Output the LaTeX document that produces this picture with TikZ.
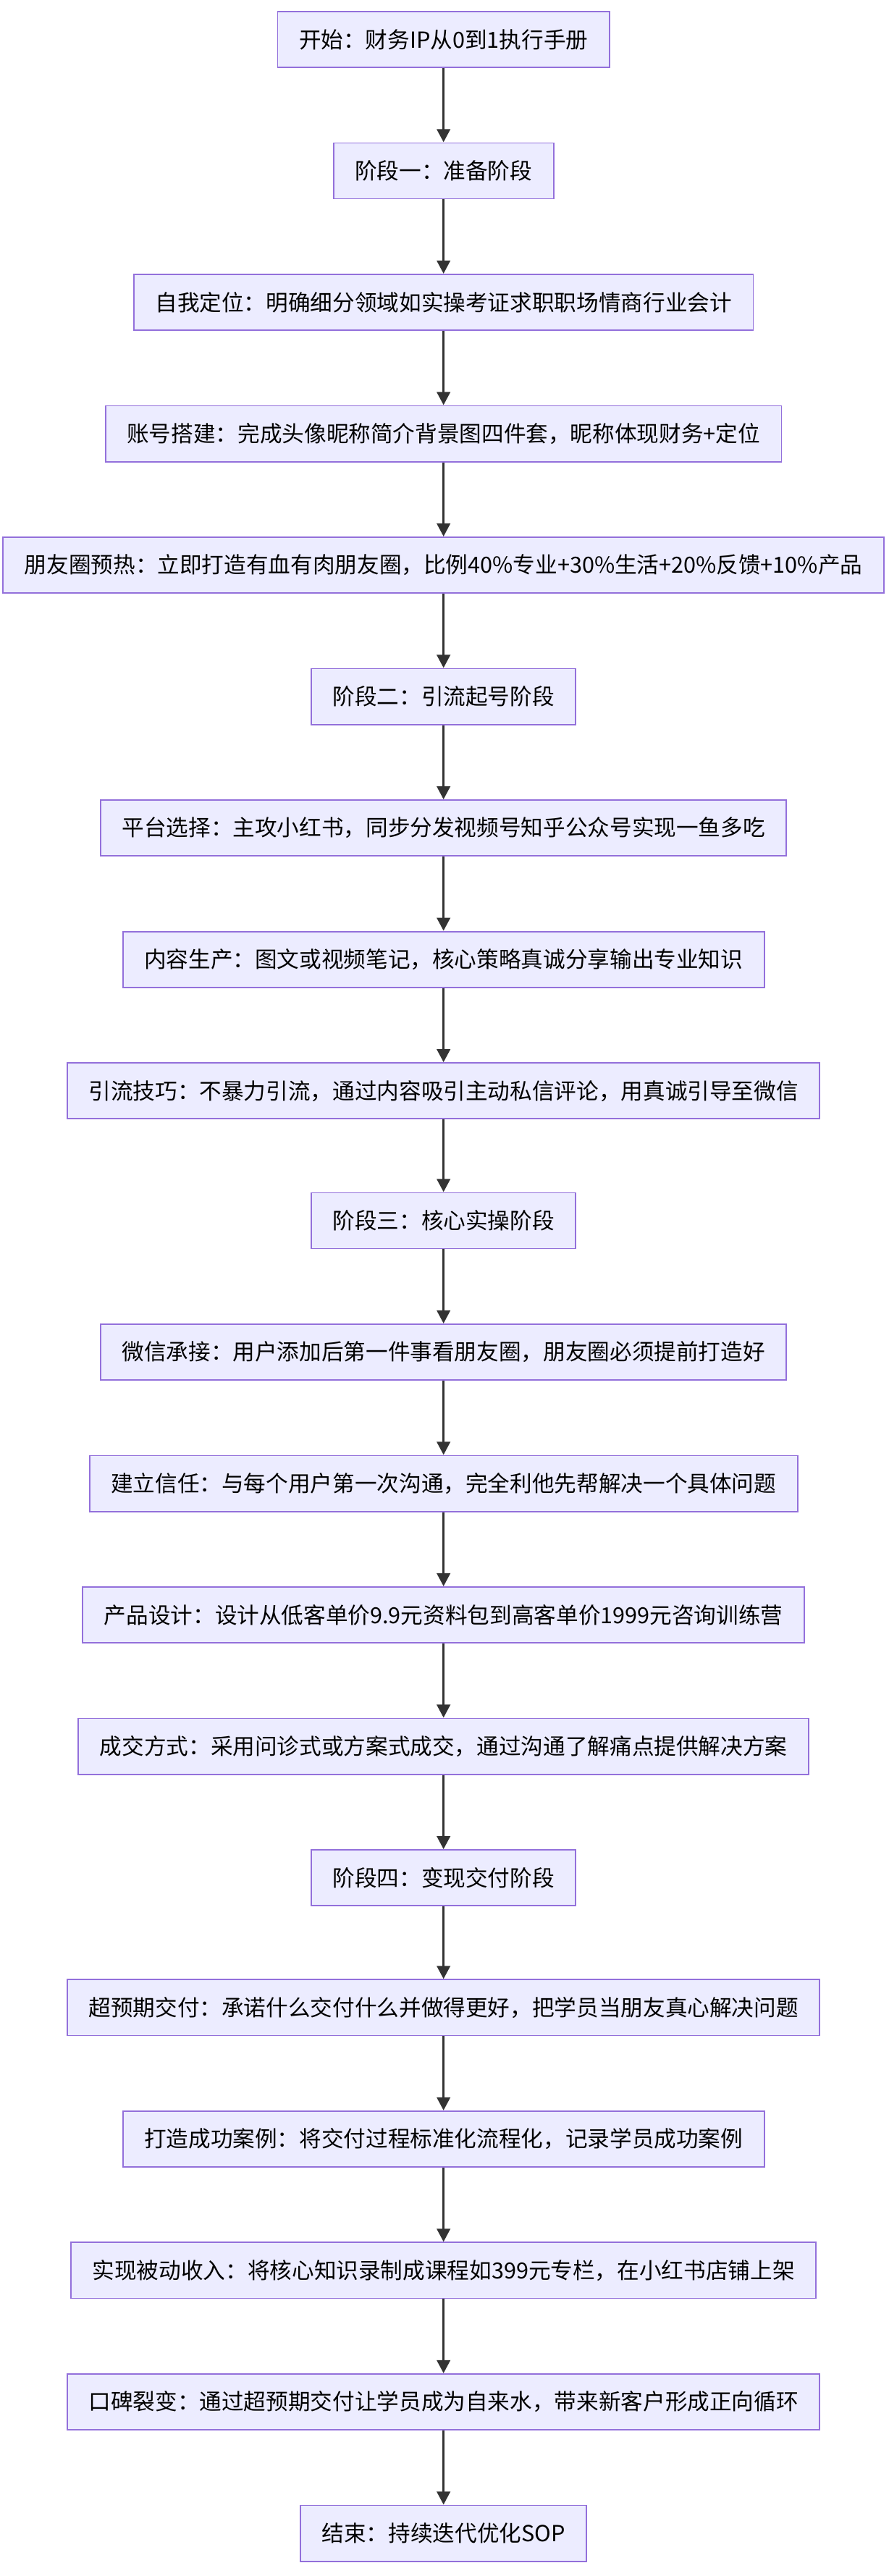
\documentclass[tikz,border=0pt]{standalone}
\usepackage{fontspec}
\setmainfont{Noto Sans CJK SC}
\usetikzlibrary{arrows.meta}
\definecolor{boxfill}{HTML}{ECECFF}
\definecolor{boxline}{HTML}{9370DB}
\definecolor{edgecol}{HTML}{333333}
\tikzstyle{step_box}=[rectangle,draw=boxline,fill=boxfill,line width=0.8pt,minimum height=34pt,inner xsep=13pt,font=\fontsize{13.5}{16}\selectfont]
\tikzstyle{flow}=[-{Triangle[length=8pt,width=8pt]},draw=edgecol,line width=1.6pt]

\begin{document}
\begin{tikzpicture}[x=1pt,y=-1pt]
	\useasboundingbox (0,0) rectangle (541,1568);
	\node [style={step_box}] (0) at (270, 24) {开始：财务IP从0到1执行手册};
	\node [style={step_box}] (1) at (270, 104) {阶段一：准备阶段};
	\node [style={step_box}] (2) at (270, 184) {自我定位：明确细分领域如实操考证求职职场情商行业会计};
	\node [style={step_box}] (3) at (270, 264) {账号搭建：完成头像昵称简介背景图四件套，昵称体现财务+定位};
	\node [style={step_box}] (4) at (270, 344) {朋友圈预热：立即打造有血有肉朋友圈，比例40\%专业+30\%生活+20\%反馈+10\%产品};
	\node [style={step_box}] (5) at (270, 424) {阶段二：引流起号阶段};
	\node [style={step_box}] (6) at (270, 504) {平台选择：主攻小红书，同步分发视频号知乎公众号实现一鱼多吃};
	\node [style={step_box}] (7) at (270, 584) {内容生产：图文或视频笔记，核心策略真诚分享输出专业知识};
	\node [style={step_box}] (8) at (270, 664) {引流技巧：不暴力引流，通过内容吸引主动私信评论，用真诚引导至微信};
	\node [style={step_box}] (9) at (270, 743) {阶段三：核心实操阶段};
	\node [style={step_box}] (10) at (270, 823) {微信承接：用户添加后第一件事看朋友圈，朋友圈必须提前打造好};
	\node [style={step_box}] (11) at (270, 903) {建立信任：与每个用户第一次沟通，完全利他先帮解决一个具体问题};
	\node [style={step_box}] (12) at (270, 983) {产品设计：设计从低客单价9.9元资料包到高客单价1999元咨询训练营};
	\node [style={step_box}] (13) at (270, 1063) {成交方式：采用问诊式或方案式成交，通过沟通了解痛点提供解决方案};
	\node [style={step_box}] (14) at (270, 1143) {阶段四：变现交付阶段};
	\node [style={step_box}] (15) at (270, 1222) {超预期交付：承诺什么交付什么并做得更好，把学员当朋友真心解决问题};
	\node [style={step_box}] (16) at (270, 1302) {打造成功案例：将交付过程标准化流程化，记录学员成功案例};
	\node [style={step_box}] (17) at (270, 1382) {实现被动收入：将核心知识录制成课程如399元专栏，在小红书店铺上架};
	\node [style={step_box}] (18) at (270, 1462) {口碑裂变：通过超预期交付让学员成为自来水，带来新客户形成正向循环};
	\node [style={step_box}] (19) at (270, 1542) {结束：持续迭代优化SOP};
	\foreach \a [evaluate=\a as \b using int(\a+1)] in {0,...,18}
		\draw [style=flow] (\a) to (\b);
\end{tikzpicture}
\end{document}
